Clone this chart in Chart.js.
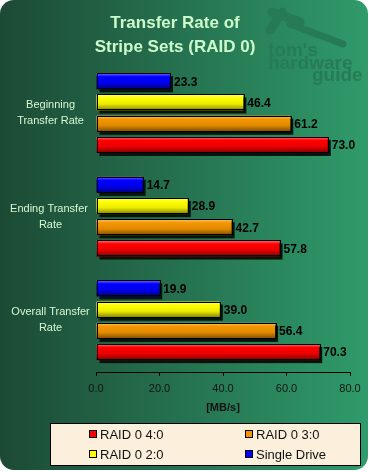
<!DOCTYPE html>
<html>
<head>
<meta charset="utf-8">
<script src="https://cdn.jsdelivr.net/npm/chart.js@4"></script>
<style>
  body { margin: 0; background: #fff; }
</style>
</head>
<body>
<canvas id="chart" width="369" height="472"></canvas>
<script>
const categories = [['Beginning', 'Transfer Rate'], ['Ending Transfer ', 'Rate'], ['Overall Transfer', 'Rate']];
const seriesNames = ['Single Drive', 'RAID 0 2:0', 'RAID 0 3:0', 'RAID 0 4:0'];
const singleDrive = [23.3, 14.7, 19.9];
const raid2 = [46.4, 28.9, 39.0];
const raid3 = [61.2, 42.7, 56.4];
const raid4 = [73.0, 57.8, 70.3];
const xTicks = [0, 20, 40, 60, 80];
const legendOrder = ['RAID 0 4:0', 'RAID 0 3:0', 'RAID 0 2:0', 'Single Drive'];

const barColors = {
  'Single Drive': [0, 0, 255],
  'RAID 0 2:0': [255, 255, 0],
  'RAID 0 3:0': [245, 150, 0],
  'RAID 0 4:0': [255, 0, 0]
};
const FONT = '"Liberation Sans", Arial, sans-serif';

function rgb(c, k) {
  return 'rgb(' + c.map(v => Math.round(Math.min(255, v * k))).join(',') + ')';
}
function lighten(c, t) {
  return 'rgb(' + c.map(v => Math.round(v + (255 - v) * t)).join(',') + ')';
}

// background, watermark, 3d bars, value labels and the legend box
const decor = {
  id: 'decor',
  beforeDraw(chart) {
    const { ctx, width, height } = chart;
    ctx.save();
    const g = ctx.createLinearGradient(0, 0, width, 0);
    g.addColorStop(0, '#1c4a35');
    g.addColorStop(1, '#2f9b6b');
    ctx.fillStyle = g;
    ctx.beginPath();
    ctx.roundRect(0, 0, width - 1, height - 2, 14);
    ctx.fill();

    // faint logo
    ctx.strokeStyle = '#267a54';
    ctx.lineCap = 'round';
    ctx.lineWidth = 7;
    ctx.beginPath(); ctx.moveTo(290, 24); ctx.lineTo(343, 44); ctx.stroke();
    ctx.lineWidth = 9;
    ctx.beginPath(); ctx.moveTo(272, 12); ctx.lineTo(300, 22); ctx.stroke();
    ctx.beginPath(); ctx.moveTo(270, 30); ctx.lineTo(282, 12); ctx.stroke();
    ctx.fillStyle = '#277b55';
    ctx.font = 'bold 19px ' + FONT;
    ctx.textAlign = 'left';
    ctx.textBaseline = 'alphabetic';
    ctx.fillText("tom's", 268, 56);
    ctx.fillText('hardware', 268, 69);
    ctx.fillText('guide', 312, 81);
    ctx.restore();
  },
  beforeDatasetsDraw(chart) {
    const { ctx } = chart;
    ctx.save();
    ctx.fillStyle = '#07140c';
    chart.data.datasets.forEach((ds, i) => {
      chart.getDatasetMeta(i).data.forEach(el => {
        const top = el.y - el.height / 2;
        ctx.fillRect(el.base + 3, top + 3, el.x - el.base, el.height);
      });
    });
    ctx.restore();
  },
  afterDatasetsDraw(chart) {
    const { ctx } = chart;
    ctx.save();
    chart.data.datasets.forEach((ds, i) => {
      const c = barColors[ds.label];
      chart.getDatasetMeta(i).data.forEach((el, j) => {
        const top = el.y - el.height / 2;
        const g = ctx.createLinearGradient(0, top, 0, top + el.height);
        g.addColorStop(0, lighten(c, 0.45));
        g.addColorStop(0.22, rgb(c, 1));
        g.addColorStop(0.6, rgb(c, 0.92));
        g.addColorStop(1, rgb(c, 0.5));
        ctx.fillStyle = g;
        ctx.fillRect(el.base, top, el.x - el.base, el.height);
        ctx.strokeStyle = '#000';
        ctx.lineWidth = 1;
        ctx.strokeRect(Math.round(el.base) + 0.5, Math.round(top) + 0.5, Math.round(el.x - el.base), Math.round(el.height) - 1);

        ctx.fillStyle = '#000';
        ctx.font = 'bold 12px ' + FONT;
        ctx.textAlign = 'left';
        ctx.textBaseline = 'middle';
        ctx.fillText(ds.data[j].toFixed(1), el.x + 4, el.y + 1);
      });
    });
    ctx.restore();
  },
  afterDraw(chart) {
    const { ctx } = chart;
    ctx.save();
    ctx.fillStyle = '#fcf0dc';
    ctx.fillRect(50, 423, 311, 43);
    ctx.strokeStyle = '#000';
    ctx.lineWidth = 1;
    ctx.strokeRect(50.5, 423.5, 310, 42);
    ctx.font = '13px ' + FONT;
    ctx.textBaseline = 'middle';
    ctx.textAlign = 'left';
    legendOrder.forEach((name, k) => {
      const x = k % 2 === 0 ? 89 : 245;
      const y = k < 2 ? 434 : 454;
      ctx.fillStyle = rgb(barColors[name], 1);
      ctx.fillRect(x, y - 4, 8, 8);
      ctx.strokeStyle = '#000';
      ctx.strokeRect(x + 0.5, y - 3.5, 7, 7);
      ctx.fillStyle = '#111';
      ctx.fillText(name, x + 11, y + 1);
    });
    ctx.restore();
  }
};

const seriesValues = [singleDrive, raid2, raid3, raid4];

new Chart(document.getElementById('chart'), {
  type: 'bar',
  data: {
    labels: categories,
    datasets: seriesNames.map((name, i) => ({
      label: name,
      data: seriesValues[i],
      backgroundColor: rgb(barColors[name], 1),
      borderColor: '#000',
      borderWidth: 1,
      categoryPercentage: 0.82,
      barPercentage: 0.76
    }))
  },
  options: {
    indexAxis: 'y',
    responsive: false,
    animation: false,
    layout: { padding: { left: 0, right: 19, top: 0, bottom: 0 } },
    plugins: {
      legend: { display: false },
      tooltip: { enabled: false },
      title: {
        display: true,
        text: ['Transfer Rate of', 'Stripe Sets (RAID 0)'],
        color: '#cdfacb',
        font: { family: FONT, size: 17, weight: 'bold', lineHeight: 1.42 },
        padding: { top: 11, bottom: 2 }
      }
    },
    scales: {
      x: {
        min: 0,
        max: 80,
        afterFit(scale) { scale.height = 100; },
        afterBuildTicks(scale) { scale.ticks = xTicks.map(v => ({ value: v })); },
        ticks: {
          callback: v => Number(v).toFixed(1),
          color: '#141414',
          font: { family: FONT, size: 11 },
          padding: 6,
          maxRotation: 0
        },
        grid: { drawOnChartArea: false, drawTicks: true, tickLength: 4, color: '#000' },
        border: { color: '#000', width: 1 },
        title: {
          display: true,
          text: '[MB/s]',
          color: '#111',
          font: { family: FONT, size: 11, weight: 'bold' },
          padding: { top: 0, bottom: 57 }
        }
      },
      y: {
        afterFit(scale) { scale.width = 96; },
        ticks: {
          color: '#d6f8d2',
          font: { family: FONT, size: 11, lineHeight: 1.45 },
          crossAlign: 'center',
          padding: 5
        },
        grid: { display: false, drawTicks: false },
        border: { display: false }
      }
    }
  },
  plugins: [decor]
});
</script>
</body>
</html>
